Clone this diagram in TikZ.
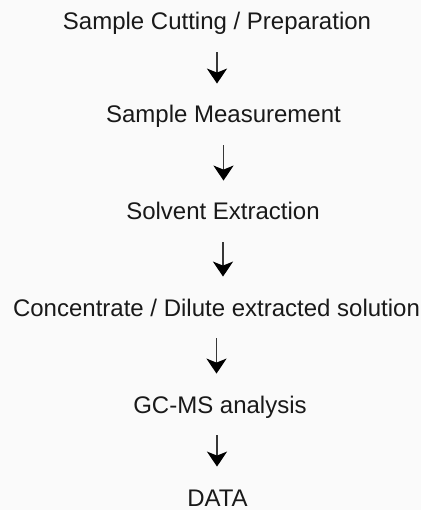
\documentclass[tikz,border=0pt]{standalone}
\usepackage{fontspec}
\setmainfont{Liberation Sans}
\usetikzlibrary{arrows.meta}
\definecolor{bg}{RGB}{250,250,250}
\definecolor{txt}{RGB}{25,25,25}
\definecolor{shaft}{RGB}{55,55,55}
\begin{document}
\begin{tikzpicture}[x=1pt,y=-1pt,
  lbl/.style={anchor=base, inner sep=0pt, text height=17.2pt, text depth=5pt,
    font=\fontsize{24}{28}\selectfont, text=txt},
  arr/.style={draw=shaft, line width=1.9pt,
    -{Stealth[length=15pt,width=20pt,inset=4pt,color=black,fill=black]},
    shorten <=17pt, shorten >=22pt}]
\fill[bg] (0,0) rectangle (421,510);
\useasboundingbox (0,0) rectangle (421,510);
\node[lbl] (a) at (217,30) {Sample Cutting / Preparation};
\node[lbl] (b) at (223.5,123) {Sample Measurement};
\node[lbl] (c) at (223,220) {Solvent Extraction};
\node[lbl] (d) at (216.5,316) {Concentrate / Dilute extracted solution};
\node[lbl] (e) at (220,413) {GC-MS analysis};
\node[lbl] (f) at (217.5,506) {DATA};
\draw[arr] (a.south) -- (a.south |- b.north);
\draw[arr] (b.south) -- (b.south |- c.north);
\draw[arr] (c.south) -- (c.south |- d.north);
\draw[arr] (d.south) -- (d.south |- e.north);
\draw[arr] ([xshift=-3pt]e.south) -- ([xshift=-3pt]e.south |- f.north);
\end{tikzpicture}
\end{document}
